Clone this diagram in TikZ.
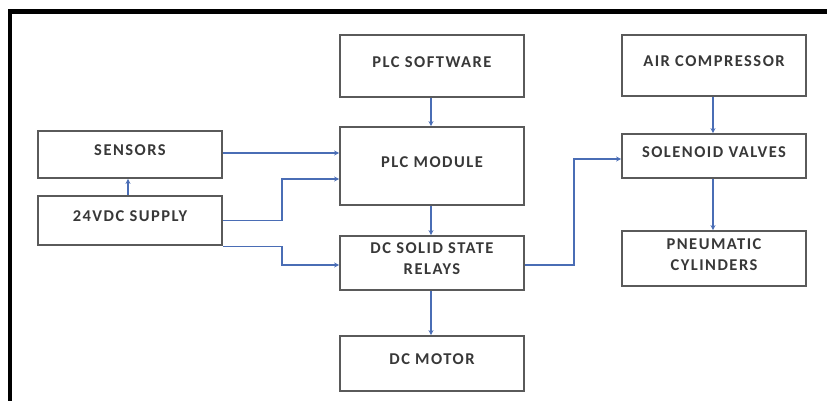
\documentclass[tikz,border=0pt]{standalone}
\usepackage{fontspec}
\setmainfont{Carlito}
\newfontfamily\boxfont[LetterSpace=9,BoldFont={Carlito Bold}]{Carlito}
\usetikzlibrary{arrows.meta}
\definecolor{boxline}{HTML}{5A5A5A}
\definecolor{boxtext}{HTML}{383838}
\definecolor{flow}{HTML}{4A6DB5}
\tikzset{
  x=1pt, y=-1pt,
  block/.style={draw=boxline, line width=1.8pt, fill=white,
    minimum width=184pt, inner sep=0pt,
    label={[lbl,yshift=4pt]center:{#1}}},
  lbl/.style={font=\boxfont\bfseries\fontsize{16.5}{21}\selectfont,
    text=boxtext, align=center},
  flowline/.style={draw=flow, line width=1.6pt,
    -{Stealth[length=5pt,width=5pt]}},
}
\begin{document}
\begin{tikzpicture}
\useasboundingbox (0,0) rectangle (827,401);
% outer frame (top and left edges)
\draw[line width=4.5pt, line cap=rect] (827,11.5) -- (10,11.5) -- (10,401);

% blocks
\node[block={PLC SOFTWARE}, minimum height=62pt] (soft) at (432,66) {};
\node[block={PLC MODULE}, minimum height=78pt] (mod) at (432,166) {};
\node[block={SENSORS}, minimum height=47pt] (sens) at (130,154.5) {};
\node[block={24VDC SUPPLY}, minimum height=49pt] (sup) at (130,220.5) {};
\node[block={DC SOLID STATE\\RELAYS}, minimum height=54pt] (ssr) at (432,263) {};
\node[block={DC MOTOR}, minimum height=55pt] (mot) at (432,363.5) {};
\node[block={AIR COMPRESSOR}, minimum height=61pt] (air) at (714,65.5) {};
\node[block={SOLENOID VALVES}, minimum height=44pt] (sol) at (714,156) {};
\node[block={PNEUMATIC\\CYLINDERS}, minimum height=55pt] (pneu) at (714,258.5) {};

% connectors
\draw[flowline] ([xshift=-1pt]soft.south) -- ([xshift=-1pt]mod.north);
\draw[flowline] ([xshift=-1pt]mod.south) -- ([xshift=-1pt]ssr.north);
\draw[flowline] ([xshift=-1pt]ssr.south) -- ([xshift=-1pt]mot.north);
\draw[flowline] ([xshift=-1pt]air.south) -- ([xshift=-1pt]sol.north);
\draw[flowline] ([xshift=-1pt]sol.south) -- ([xshift=-1pt]pneu.north);
\draw[flowline] ([xshift=-2pt]sup.north) -- ([xshift=-2pt]sens.south);
\draw[flowline] ([yshift=1.5pt]sens.east) -- ([yshift=1.5pt]sens.east -| mod.west);
\draw[flowline] (sup.east) -- ++(59,0) |- ([yshift=-13pt]mod.west);
\draw[flowline] ([yshift=-0.5pt]sup.south east) -- ++(59,0) |- ([yshift=-2pt]ssr.west);
\draw[flowline] ([yshift=-2pt]ssr.east) -- ++(49,0) |- ([yshift=-3pt]sol.west);
\end{tikzpicture}
\end{document}
